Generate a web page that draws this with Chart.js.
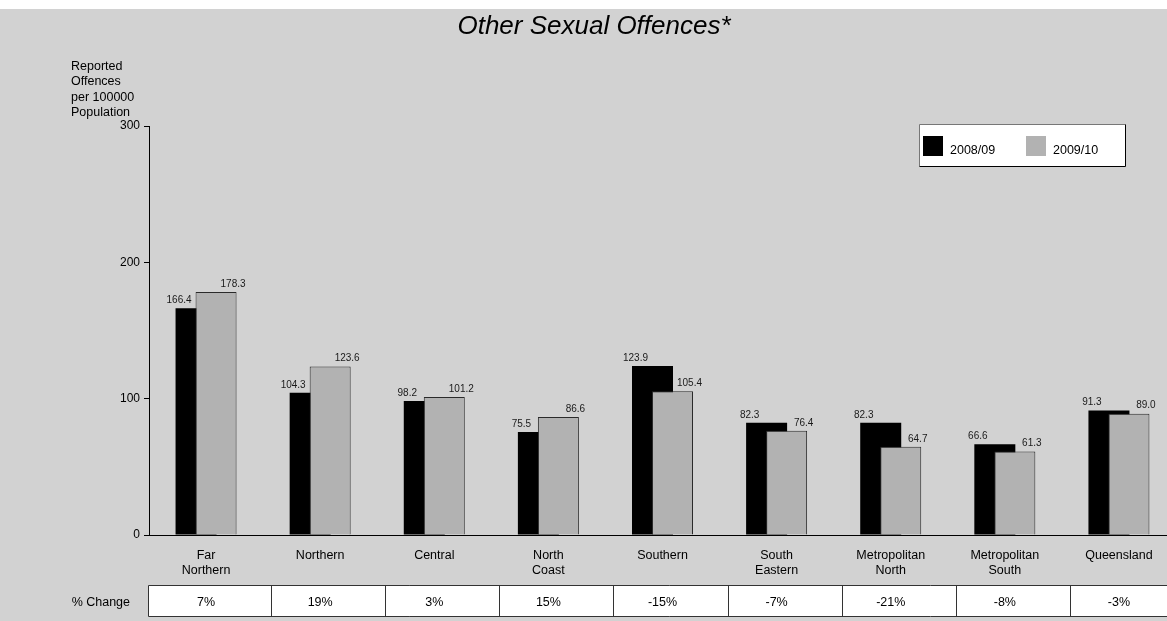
<!DOCTYPE html>
<html><head><meta charset="utf-8">
<script src="https://cdn.jsdelivr.net/npm/chart.js@4.4.0/dist/chart.umd.min.js"></script>
<style>html,body{margin:0;padding:0;background:#fff;overflow:hidden;width:1167px;height:621px}canvas{display:block}</style>
</head><body>
<canvas id="c" width="1190" height="621"></canvas>
<script>
const categories = [['Far','Northern'],'Northern','Central',['North','Coast'],'Southern',['South','Eastern'],['Metropolitan','North'],['Metropolitan','South'],'Queensland'];
const seriesLabels = ['2008/09','2009/10'];
const values0809 = [166.4,104.3,98.2,75.5,123.9,82.3,82.3,66.6,91.3];
const values0910 = [178.3,123.6,101.2,86.6,105.4,76.4,64.7,61.3,89.0];
const pctChange = ['7%','19%','3%','15%','-15%','-7%','-21%','-8%','-3%'];
const yTicks = [0,100,200,300];
const yTitleLines = ['Reported','Offences','per 100000','Population'];
const chartTitle = 'Other Sexual Offences*';
const tableRowLabel = '% Change';

const FONT = "'Liberation Sans', Arial, sans-serif";
const BG = '#d2d2d2';
const C0809 = '#000000';
const C0910 = '#b2b2b2';

Chart.defaults.font.family = FONT;
Chart.defaults.color = '#000';

const bgPlugin = {
  id: 'bg',
  beforeDraw(chart) {
    const ctx = chart.ctx;
    ctx.save();
    ctx.fillStyle = '#fff';
    ctx.fillRect(0, 0, chart.width, chart.height);
    ctx.fillStyle = BG;
    ctx.fillRect(0, 9, chart.width, chart.height - 9);
    ctx.restore();
  }
};

// draw first dataset underneath the second (overlapping bars)
const orderPlugin = {
  id: 'order',
  beforeDatasetsDraw(chart) {
    const meta = chart.getDatasetMeta(0);
    if (meta.visible) meta.controller.draw();
  },
  beforeDatasetDraw(chart, args) {
    if (args.index === 0) return false;
  }
};

const labelsPlugin = {
  id: 'vlabels',
  afterDatasetsDraw(chart) {
    const ctx = chart.ctx;
    ctx.save();
    ctx.font = '10px ' + FONT;
    ctx.fillStyle = '#1a1a1a';
    ctx.textAlign = 'center';
    ctx.textBaseline = 'middle';
    chart.data.datasets.forEach((ds, di) => {
      const meta = chart.getDatasetMeta(di);
      meta.data.forEach((el, i) => {
        const dx = di === 0 ? -17 : 17;
        ctx.fillText(ds.data[i].toFixed(1), el.x + dx, el.y - 8);
      });
    });
    ctx.restore();
  }
};

const decoPlugin = {
  id: 'deco',
  afterDraw(chart) {
    const ctx = chart.ctx;
    const xs = chart.scales.x;
    ctx.save();
    // title
    ctx.font = 'italic 26px ' + FONT;
    ctx.fillStyle = '#000';
    ctx.textAlign = 'center';
    ctx.textBaseline = 'middle';
    ctx.fillText(chartTitle, 594, 27);
    // y title
    ctx.font = '12.5px ' + FONT;
    ctx.textAlign = 'left';
    yTitleLines.forEach((t, i) => ctx.fillText(t, 71, 66.5 + i * 15.3));
    // legend
    ctx.fillStyle = '#fff';
    ctx.fillRect(919.5, 124.5, 206, 42);
    ctx.strokeStyle = '#777';
    ctx.lineWidth = 1;
    ctx.beginPath();
    ctx.moveTo(919.5, 166.5); ctx.lineTo(919.5, 124.5); ctx.lineTo(1125.5, 124.5);
    ctx.stroke();
    ctx.strokeStyle = '#000';
    ctx.beginPath();
    ctx.moveTo(1125.5, 124.5); ctx.lineTo(1125.5, 166.5); ctx.lineTo(919.5, 166.5);
    ctx.stroke();
    const legX = [923, 1026];
    chart.data.datasets.forEach((ds, di) => {
      ctx.fillStyle = ds.backgroundColor;
      ctx.fillRect(legX[di], 136, 20, 20);
      ctx.fillStyle = '#000';
      ctx.font = '12.5px ' + FONT;
      ctx.textAlign = 'left';
      ctx.fillText(ds.label, legX[di] + 27, 150.5);
    });
    // table
    const top = 585.5, bot = 616.5, left = 148.5, right = chart.width + 5;
    ctx.fillStyle = '#fff';
    ctx.fillRect(left, top, right - left, bot - top);
    ctx.strokeStyle = '#333';
    ctx.beginPath();
    ctx.moveTo(right, top); ctx.lineTo(left, top); ctx.lineTo(left, bot); ctx.lineTo(right, bot);
    const w = xs.getPixelForValue(1) - xs.getPixelForValue(0);
    for (let i = 0; i < pctChange.length - 1; i++) {
      const x = Math.round(xs.getPixelForValue(i) + w / 2 + 8) + 0.5;
      ctx.moveTo(x, top); ctx.lineTo(x, bot);
    }
    ctx.stroke();
    ctx.fillStyle = '#000';
    ctx.font = '12.5px ' + FONT;
    ctx.textAlign = 'right';
    ctx.fillText(tableRowLabel, 130, 602.5);
    ctx.textAlign = 'center';
    pctChange.forEach((t, i) => ctx.fillText(t, xs.getPixelForValue(i), 602.5));
    ctx.restore();
  }
};

new Chart(document.getElementById('c'), {
  type: 'bar',
  data: {
    labels: categories,
    datasets: [
      { label: seriesLabels[0], data: values0809, backgroundColor: C0809, borderWidth: 0 },
      { label: seriesLabels[1], data: values0910, backgroundColor: C0910, borderColor: '#2a2a2a', borderWidth: 1 }
    ]
  },
  options: {
    responsive: false,
    animation: false,
    events: [],
    categoryPercentage: 40 / 114.1,
    barPercentage: 2.05,
    layout: { padding: { top: 126, right: 14, bottom: 0, left: 0 } },
    plugins: { legend: { display: false }, title: { display: false }, tooltip: { enabled: false } },
    scales: {
      x: {
        offset: true,
        grid: { display: false, drawTicks: false },
        border: { display: true, color: '#000', width: 1 },
        ticks: { font: { size: 12.5 }, color: '#000', padding: 13, maxRotation: 0, autoSkip: false },
        afterFit(s) { s.height = 86; }
      },
      y: {
        min: 0, max: 300,
        afterBuildTicks(s) { s.ticks = yTicks.map(v => ({ value: v })); },
        grid: { display: true, drawOnChartArea: false, drawTicks: true, tickLength: 5, color: '#000', tickColor: '#000' },
        border: { display: true, color: '#000', width: 1 },
        ticks: { font: { size: 12 }, color: '#000', padding: 4 },
        afterFit(s) { s.width = 149; }
      }
    }
  },
  plugins: [bgPlugin, orderPlugin, labelsPlugin, decoPlugin]
});
</script>
</body></html>
